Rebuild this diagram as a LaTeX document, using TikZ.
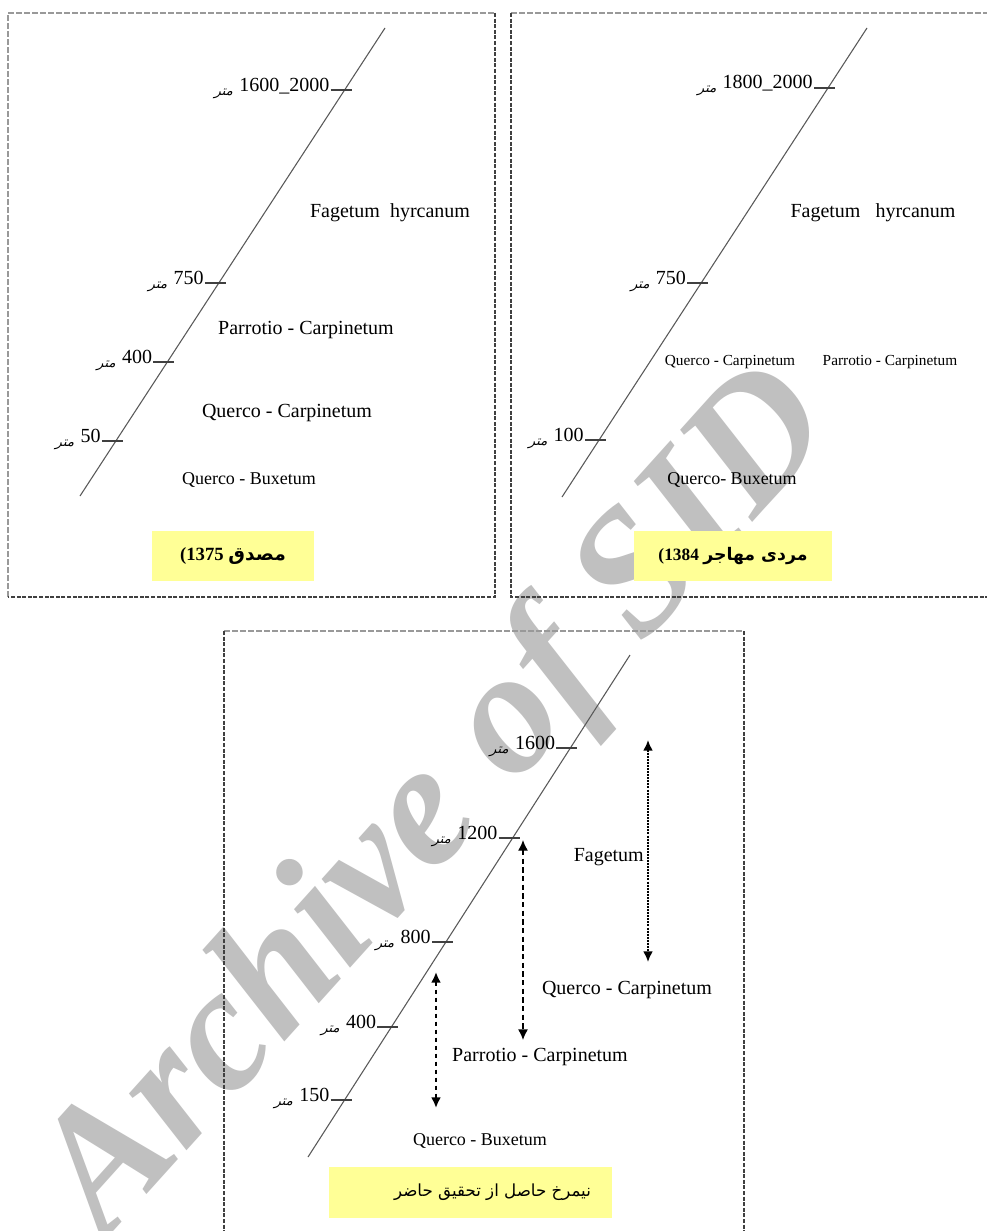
\documentclass[tikz,border=0pt]{standalone}
\usepackage{fontspec}
\setmainfont{Liberation Serif}
\newfontfamily\arabicfont[Script=Arabic]{DejaVu Sans}
\newfontfamily\arabicslant[Script=Arabic,FakeSlant=0.3]{DejaVu Sans}
\TeXXeTstate=1
\usetikzlibrary{calc,arrows.meta}
\definecolor{boxyellow}{RGB}{255,255,150}
\definecolor{wmgray}{RGB}{192,192,192}
\tikzset{
  lbl/.style={inner sep=0pt, font=\fontsize{15}{18}\selectfont},
  lblb/.style={inner sep=0pt, font=\fontsize{13.5}{16}\selectfont},
  lblsm/.style={inner sep=0pt, font=\fontsize{11.5}{14}\selectfont},
  num/.style={inner sep=0pt, anchor=base east, font=\fontsize{15}{18}\selectfont},
  unit/.style={inner sep=0pt, anchor=base east, font=\arabicslant\fontsize{10}{12}\selectfont},
  slope/.style={draw=black!65, line width=0.8pt},
  tickmark/.style={draw=black!75, line width=0.8pt},
  ybox/.style={fill=boxyellow, inner sep=0pt},
  frlight/.style={draw=black!40, line width=1.1pt, dash pattern=on 4.5pt off 1.5pt},
  frdark/.style={draw=black!75, line width=1.3pt, dash pattern=on 3pt off 1.2pt},
  darr/.style={draw=black, {Latex[length=8pt,width=7.5pt]}-{Latex[length=8pt,width=7.5pt]}},
}
\newcommand\tickat[4]{%
  \coordinate (#1) at (#2,#3);
  \draw[tickmark] ($(#1)+(-14,0)$) -- ($(#1)+(7,0)$);
  \node[num] (#1n) at ($(#1)+(-15,1)$) {#4};
  \node[unit] (#1u) at ($(#1n.base west)+(-6,4)$) {\beginR متر\endR};
}
\begin{document}
\begin{tikzpicture}[x=0.75pt,y=-0.75pt]
\useasboundingbox (0,0) rectangle (987,1231);
\fill[white] (0,0) rectangle (987,1231);

% watermark
\node[rotate=48, text=wmgray, inner sep=0pt,
  font=\fontsize{132}{132}\selectfont\bfseries\itshape] (wm) at (440,805) {Archive of SID};

% ---------- frame 1 ----------
\draw[frlight] (8,597) -- (8,13) -- (495,13);
\draw[frdark] (495,13) -- (495,597) -- (8,597);
\coordinate (s1a) at (385,28);
\coordinate (s1b) at (80,496);
\draw[slope] (s1a) -- (s1b);
\tickat{ta}{344.6}{90}{1600\_2000}
\tickat{tb}{218.8}{283}{750}
\tickat{tc}{167.3}{362}{400}
\tickat{td}{115.8}{441}{50}
\node[lbl] (f1a) at (390,213) {Fagetum\ \ hyrcanum};
\node[lbl] (f1b) at (306,330) {Parrotio - Carpinetum};
\node[lbl] (f1c) at (287,413) {Querco - Carpinetum};
\node[lblb] (f1d) at (249,480) {Querco - Buxetum};
\node[ybox, minimum width=121.5pt, minimum height=37.5pt] (b1) at (233,556) {};
\node[inner sep=0pt, font=\fontsize{14}{16}\selectfont\bfseries] (b1t) at (b1.center)
  {(1375 {\arabicfont\bfseries\beginR مصدق\endR}};

% ---------- frame 2 ----------
\draw[frlight] (511,13) -- (987,13);
\draw[frdark] (511,13) -- (511,597) -- (987,597);
\coordinate (s2a) at (867,28);
\coordinate (s2b) at (562,497);
\draw[slope] (s2a) -- (s2b);
\tickat{ua}{828}{88}{1800\_2000}
\tickat{ub}{701.2}{283}{750}
\tickat{uc}{599}{440}{100}
\node[lbl] (f2a) at (873,213) {Fagetum\ \ \ hyrcanum};
\node[lblsm] (f2b) at (730,362) {Querco - Carpinetum};
\node[lblsm] (f2c) at (890,362) {Parrotio - Carpinetum};
\node[lblb] (f2d) at (732,480) {Querco- Buxetum};
\node[ybox, minimum width=148.5pt, minimum height=37.5pt] (b2) at (733,556) {};
\node[inner sep=0pt, font=\fontsize{13}{15}\selectfont\bfseries] (b2t) at (b2.center)
  {(1384 {\arabicfont\bfseries\beginR مردی مهاجر\endR}};

% ---------- frame 3 ----------
\draw[frlight] (224,631) -- (744,631);
\draw[frdark] (224,631) -- (224,1231);
\draw[frdark] (744,631) -- (744,1231);
\coordinate (s3a) at (630,655);
\coordinate (s3b) at (308,1157);
\draw[slope] (s3a) -- (s3b);
\tickat{va}{570.3}{748}{1600}
\tickat{vb}{512.6}{838}{1200}
\tickat{vc}{445.9}{942}{800}
\tickat{vd}{391.4}{1027}{400}
\tickat{ve}{344.6}{1100}{150}

\coordinate (a1t) at (648,740);
\coordinate (a1b) at (648,962);
\draw[darr, line width=1.5pt, dash pattern=on 1.5pt off 0.8pt] (a1t) -- (a1b);
\coordinate (a2t) at (523,840);
\coordinate (a2b) at (523,1040);
\draw[darr, line width=1pt, dash pattern=on 4pt off 2.5pt] (a2t) -- (a2b);
\coordinate (a3t) at (436,972);
\coordinate (a3b) at (436,1108);
\draw[darr, line width=1.6pt, dash pattern=on 3.5pt off 2.5pt] (a3t) -- (a3b);

\node[lbl, anchor=east] (f3a) at (644,857) {Fagetum};
\node[lbl] (f3b) at (627,990) {Querco - Carpinetum};
\node[lbl] (f3c) at (540,1057) {Parrotio - Carpinetum};
\node[lblb] (f3d) at (480,1141) {Querco - Buxetum};
\node[ybox, minimum width=212.25pt, minimum height=38.25pt] (b3) at (470.5,1192.5) {};
\node[inner sep=0pt, font=\arabicfont\fontsize{12.5}{15}\selectfont] (b3t) at ($(b3.center)+(22,0)$)
  {\beginR نیمرخ حاصل از تحقیق حاضر\endR};
\end{tikzpicture}
\end{document}
